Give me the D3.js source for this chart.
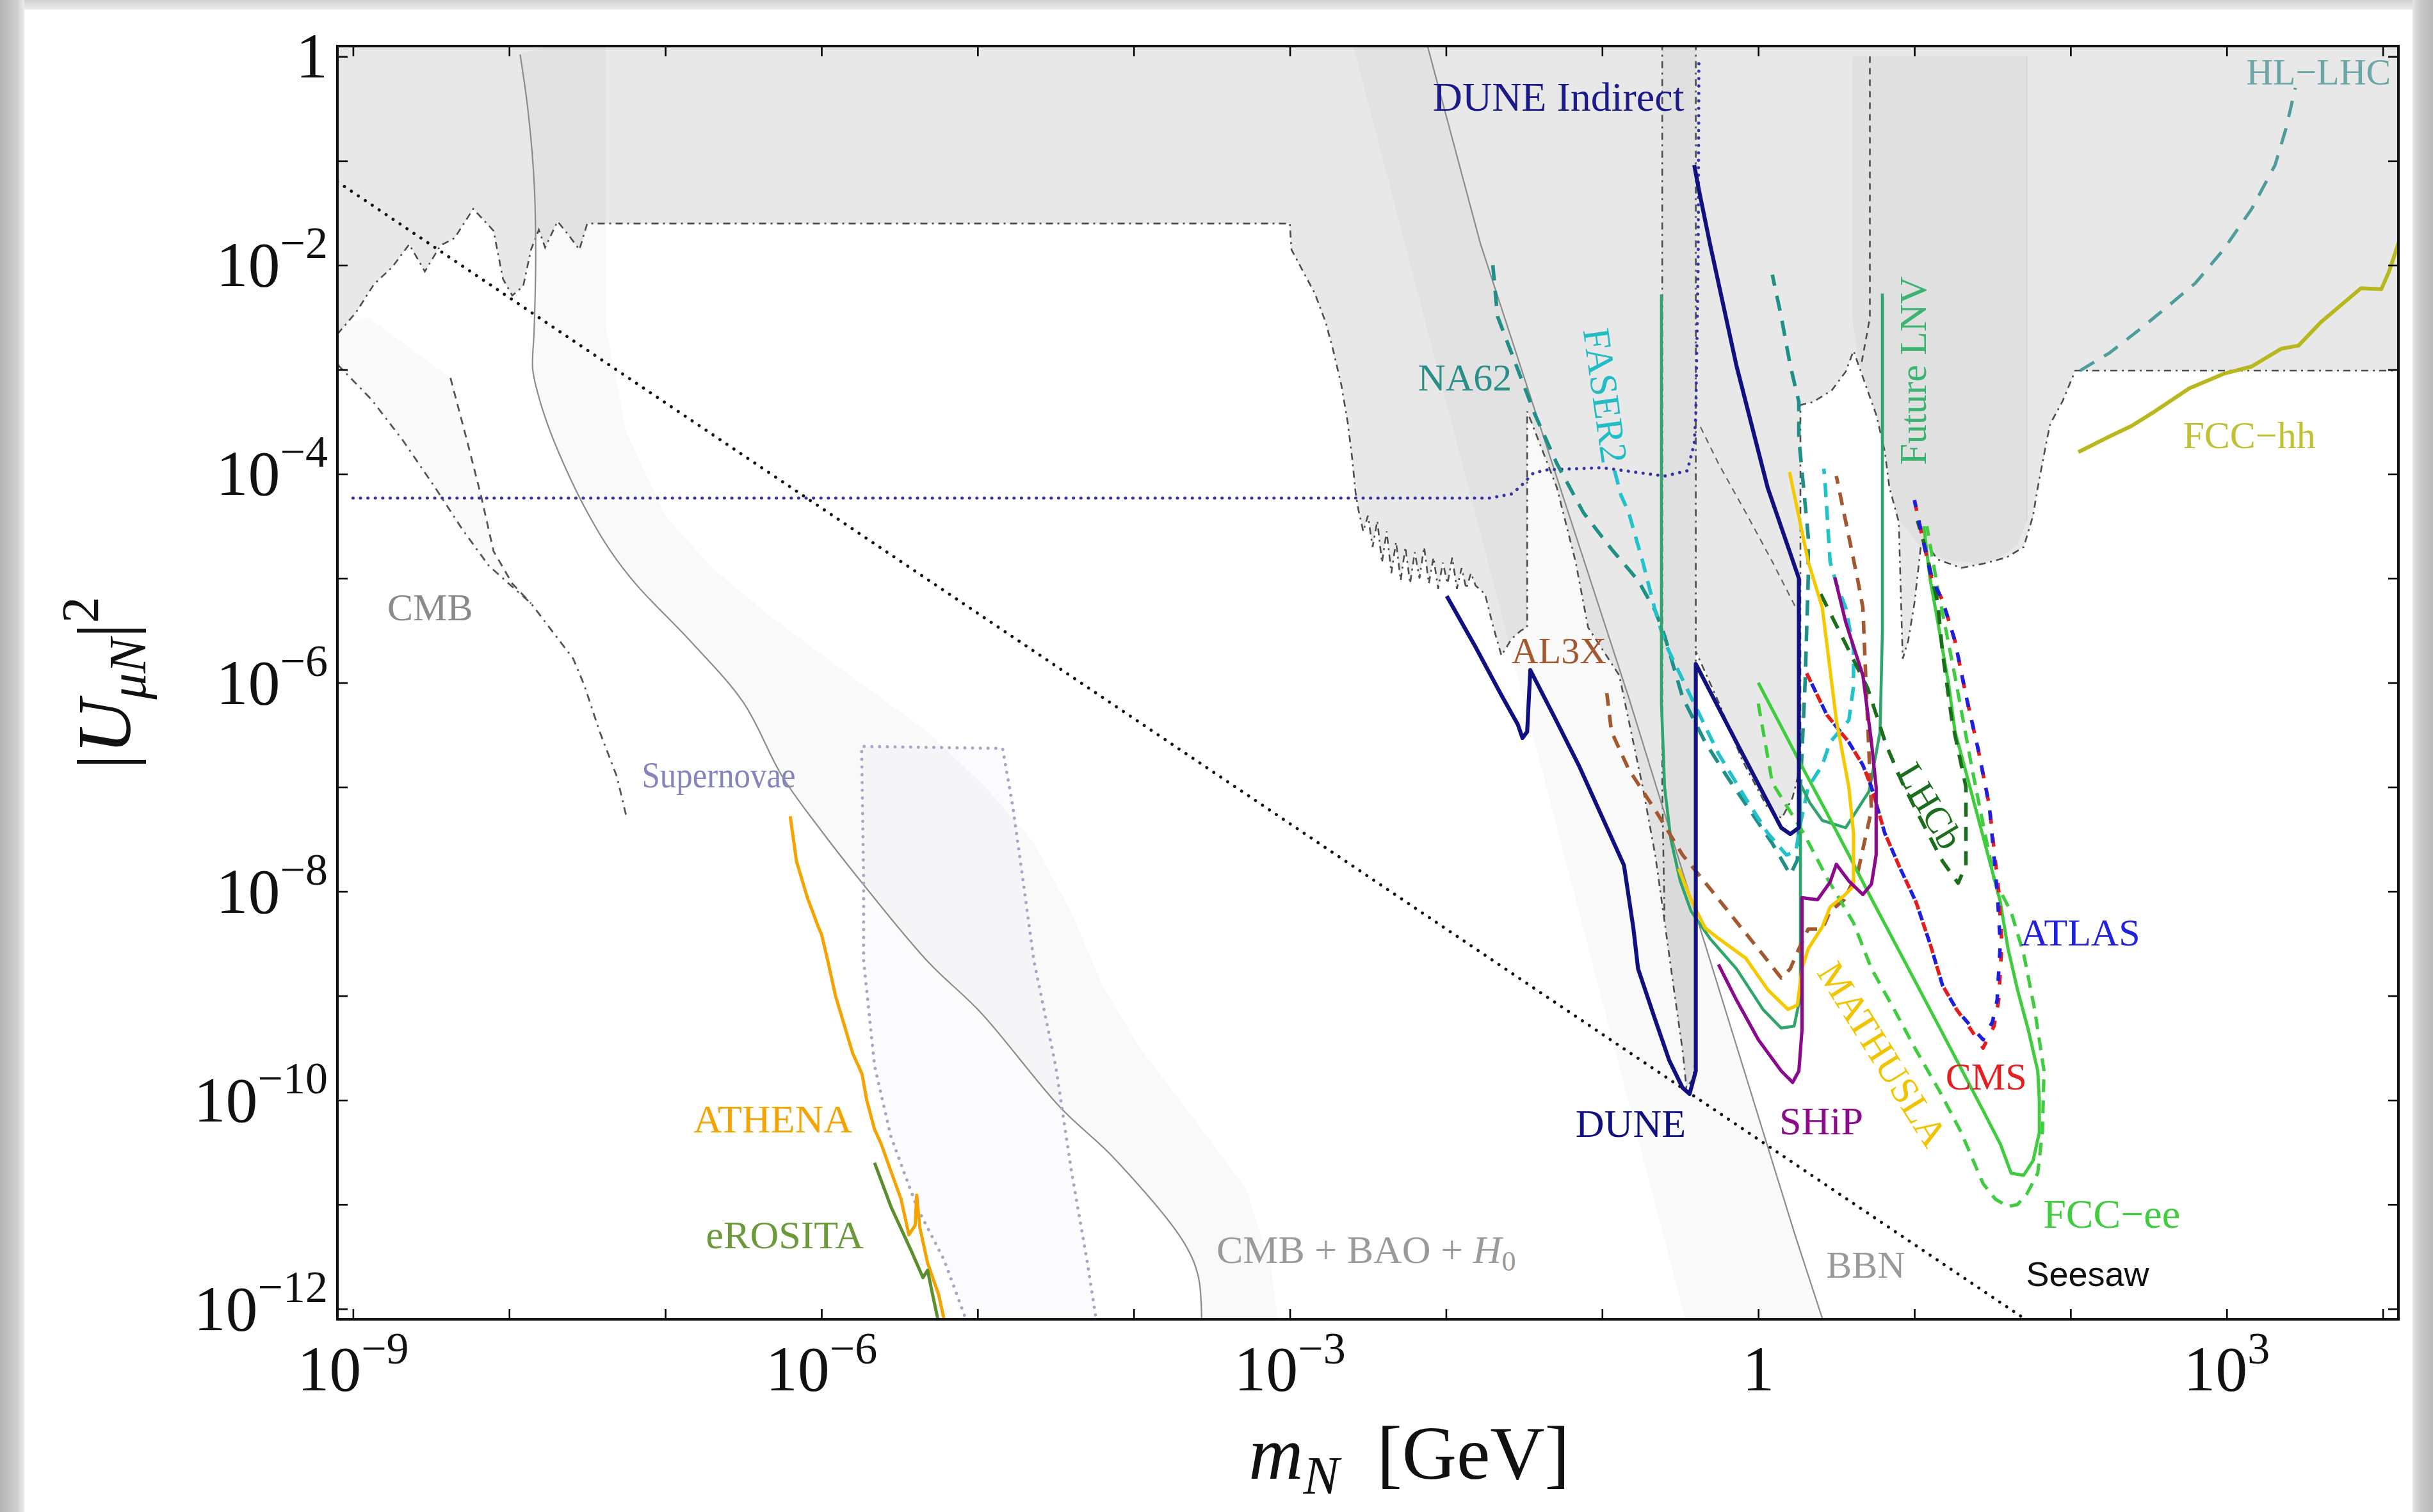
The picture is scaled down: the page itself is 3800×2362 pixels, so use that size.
<!DOCTYPE html>
<html>
<head>
<meta charset="utf-8">
<script src="https://cdn.jsdelivr.net/npm/d3@7"></script>
<style>
html, body { margin: 0; padding: 0; background: #fff; }
svg { display: block; }
</style>
</head>
<body>
<svg id="chart" width="3800" height="2362"></svg>
<script>
// All curves are tabulated as [log10(m_N / GeV), log10 |U_muN|^2].

// Lower edge of the combined excluded region (everything above it is shaded).
const excludedEdge = [
  [-9.10,-2.66],[-8.98,-2.45],[-8.865,-2.18],[-8.75,-2.02],[-8.64,-1.80],[-8.54,-2.06],[-8.44,-1.81],
  [-8.35,-1.74],[-8.23,-1.46],[-8.10,-1.67],[-8.04,-2.13],[-7.98,-2.29],[-7.91,-2.20],[-7.86,-1.85],
  [-7.81,-1.66],[-7.77,-1.83],[-7.69,-1.58],[-7.62,-1.71],[-7.55,-1.85],[-7.50,-1.60],
  [-3.00,-1.60],[-2.99,-1.85],[-2.94,-1.99],[-2.84,-2.27],[-2.77,-2.55],[-2.72,-2.83],[-2.67,-3.15],
  [-2.63,-3.50],[-2.60,-3.86],[-2.58,-4.17],[-2.56,-4.35],
  [-2.53,-4.55],[-2.50,-4.40],[-2.47,-4.70],[-2.44,-4.45],[-2.41,-4.85],[-2.38,-4.55],[-2.35,-4.95],
  [-2.32,-4.65],[-2.29,-5.02],[-2.26,-4.70],[-2.23,-5.05],[-2.20,-4.75],[-2.17,-5.00],[-2.14,-4.70],
  [-2.11,-5.05],[-2.08,-4.80],[-2.05,-5.10],[-2.02,-4.85],[-1.99,-5.05],[-1.96,-4.80],[-1.93,-5.10],
  [-1.90,-4.90],[-1.87,-5.10],[-1.84,-4.95],[-1.81,-5.07],[-1.75,-5.15],[-1.70,-5.45],[-1.645,-5.74],
  [-1.58,-5.58],[-1.52,-5.50],[-1.48,-5.47],[-1.48,-3.40],
  [-1.29,-4.13],[-1.17,-4.84],[-1.09,-5.47],[-0.89,-5.93],[-0.83,-6.36],[-0.74,-7.00],[-0.66,-7.65],
  [-0.60,-8.29],[-0.54,-8.94],[-0.485,-9.52],[-0.46,-9.88],[-0.42,-9.80],[-0.40,-9.60],
  [-0.40,-5.70],[-0.25,-6.20],[-0.10,-6.75],[0.06,-7.20],[0.15,-7.30],[0.22,-7.10],[0.27,-6.80],
  [0.27,-3.34],[0.35,-3.31],[0.47,-3.20],[0.56,-3.02],[0.61,-2.82],[0.70,-3.20],[0.755,-3.43],
  [0.81,-3.78],[0.84,-4.13],[0.90,-4.46],[0.925,-5.77],[0.96,-5.60],[1.00,-5.24],[1.04,-4.71],
  [1.10,-4.72],[1.15,-4.82],[1.30,-4.90],[1.44,-4.86],[1.59,-4.80],[1.70,-4.70],[1.76,-4.40],
  [1.79,-4.13],[1.85,-3.66],[1.87,-3.52],[1.95,-3.30],[2.03,-3.01],[4.10,-3.01]
];

// Narrow beam-dump column and the LNV / collider block (drawn as darker overlays).
const columnRegion = [[-0.615,0.3],[-0.40,0.3],[-0.40,-9.60],[-0.46,-9.88],[-0.54,-8.94],[-0.60,-8.29],[-0.615,-5.5]];
const lnvBlock = [[0.60,0.0],[1.72,0.0],[1.72,-4.45],[1.66,-4.68],[1.55,-4.80],[1.40,-4.86],[1.20,-4.82],
  [1.05,-4.72],[0.88,-4.40],[0.80,-3.70],[0.72,-3.25],[0.64,-2.90],[0.60,-2.50]];

// Extra region edges inside the shaded area.
const columnLeftEdge = [[-0.615,0.3],[-0.615,-7.0],[-0.60,-8.29]];
const columnRightEdge = [[-0.40,0.3],[-0.40,-5.70]];
const lnvLeftEdge = [[0.715,0.0],[0.715,-2.5],[0.66,-2.95]];
const innerEdge = [[-0.37,-3.55],[-0.255,-3.90],[-0.08,-4.37],[0.09,-4.84],[0.25,-5.31]];

// Cosmology / astrophysics
const cmbBaoH0 = [[-7.93,0.02],[-7.88,-0.51],[-7.84,-1.21],[-7.83,-1.92],[-7.84,-2.62],[-7.85,-2.98],
  [-7.83,-3.15],[-7.76,-3.50],[-7.655,-3.89],[-7.52,-4.31],[-7.35,-4.74],[-7.18,-5.07],[-6.84,-5.60],
  [-6.50,-6.19],[-6.25,-6.90],[-6.00,-7.42],[-5.76,-7.88],[-5.32,-8.67],[-4.98,-9.16],[-4.47,-10.07],
  [-4.13,-10.55],[-3.68,-11.36],[-3.585,-11.70],[-3.565,-12.20]];
const cmbBaoH0BandEdge = [[-7.38,0.3],[-7.38,-2.6],[-7.25,-3.6],[-7.0,-4.4],[-6.7,-4.9],[-6.34,-5.35],
  [-5.8,-5.95],[-5.32,-6.47],[-4.95,-7.0],[-4.64,-7.53],[-4.4,-8.2],[-4.2,-8.9],[-3.96,-9.5],
  [-3.62,-10.17],[-3.28,-10.85],[-3.12,-11.6],[-3.07,-12.2]];
const bbnLine = [[-2.154,0.3],[-1.78,-1.79],[-0.83,-6.14],[0.233,-11.28],[0.434,-12.2]];
const bbnBandEdge = [[-2.63,0.3],[-0.45,-12.2]];
const cmbDashDot = [[-9.10,-2.95],[-8.88,-3.29],[-8.68,-3.68],[-8.47,-4.14],[-8.30,-4.53],[-8.13,-4.88],
  [-7.86,-5.24],[-7.59,-5.77],[-7.52,-6.02],[-7.42,-6.47],[-7.31,-6.90],[-7.25,-7.28]];
const cmbDashed = [[-8.376,-3.08],[-8.27,-3.68],[-8.18,-4.21],[-8.10,-4.74],[-7.98,-5.05],[-7.86,-5.24]];
const supernovaBox = [[-5.05,-12.2],[-5.215,-11.53],[-5.39,-11.02],[-5.555,-10.35],[-5.66,-9.67],
  [-5.73,-8.66],[-5.73,-7.88],[-5.743,-6.61],[-4.84,-6.63],[-4.775,-7.18],[-4.71,-7.88],[-4.64,-8.66],
  [-4.50,-9.67],[-4.40,-10.67],[-4.30,-11.53],[-4.23,-12.2]];
const athena = [[-6.20,-7.28],[-6.16,-7.71],[-6.09,-8.06],[-6.02,-8.34],[-6.00,-8.41],[-5.96,-8.66],
  [-5.91,-9.00],[-5.85,-9.30],[-5.80,-9.55],[-5.74,-9.75],[-5.71,-10.00],[-5.66,-10.28],[-5.62,-10.41],
  [-5.555,-10.68],[-5.49,-10.95],[-5.44,-11.29],[-5.40,-11.20],[-5.39,-10.91],[-5.37,-11.22],
  [-5.32,-11.56],[-5.25,-11.86],[-5.20,-12.20]];
const erosita = [[-5.66,-10.60],[-5.555,-11.02],[-5.42,-11.46],[-5.35,-11.70],[-5.32,-11.63],[-5.29,-11.85],[-5.24,-12.20]];
const seesaw = [[-9.10,-1.20],[1.81,-12.20]];

// Projected sensitivities
const duneIndirect = [[-9.0,-4.23],[-1.715,-4.23],[-1.576,-4.19],[-1.51,-4.10],[-1.44,-3.99],[-1.35,-3.96],
  [-1.0,-3.94],[-0.60,-4.02],[-0.455,-3.97],[-0.41,-3.71],[-0.40,-3.43],[-0.385,-2.0],[-0.38,0.0]];
const dune = [[-1.995,-5.17],[-1.81,-5.66],[-1.645,-6.12],[-1.54,-6.40],[-1.51,-6.53],[-1.48,-6.47],
  [-1.46,-5.88],[-1.305,-6.33],[-1.15,-6.79],[-1.005,-7.27],[-0.86,-7.75],[-0.80,-8.35],[-0.77,-8.74],
  [-0.66,-9.23],[-0.57,-9.62],[-0.485,-9.88],[-0.44,-9.94],[-0.40,-9.72],[-0.40,-5.82],[-0.14,-6.57],
  [0.147,-7.39],[0.205,-7.45],[0.26,-7.39],[0.26,-5.0],[0.06,-4.13],[-0.14,-2.96],[-0.31,-1.79],
  [-0.38,-1.28],[-0.41,-1.04]];
const na62 = [[-1.70,-2.00],[-1.67,-2.49],[-1.55,-2.96],[-1.43,-3.43],[-1.29,-3.90],[-1.12,-4.37],
  [-0.94,-4.72],[-0.77,-5.02],[-0.66,-5.31],[-0.60,-5.55],[-0.485,-6.14],[-0.34,-6.57],[-0.20,-6.90],
  [-0.055,-7.22],[0.09,-7.54],[0.205,-7.84],[0.25,-7.70],[0.27,-7.00],[0.30,-6.00],[0.32,-5.00],
  [0.32,-4.60],[0.29,-4.13],[0.26,-3.66],[0.26,-3.31],[0.205,-2.96],[0.147,-2.49],[0.09,-2.09]];
const faser2 = [[-0.92,-3.97],[-0.88,-4.20],[-0.83,-4.37],[-0.74,-4.84],[-0.66,-5.31],[-0.60,-5.61],
  [-0.43,-6.14],[-0.255,-6.68],[-0.08,-7.11],[0.06,-7.44],[0.18,-7.65],[0.24,-7.62],[0.27,-7.35],
  [0.32,-7.00],[0.41,-6.79],[0.46,-6.57],[0.58,-6.36],[0.61,-6.04],[0.61,-5.68],[0.56,-5.28],
  [0.50,-5.05],[0.46,-4.84],[0.43,-4.13],[0.42,-3.95]];
const futureLNV = [[-0.62,-2.28],[-0.62,-6.20],[-0.60,-7.00],[-0.56,-7.50],[-0.50,-7.90],[-0.43,-8.19],
  [-0.31,-8.45],[-0.14,-8.74],[0.03,-9.13],[0.147,-9.31],[0.23,-9.29],[0.27,-9.00],[0.27,-6.97],
  [0.33,-7.15],[0.41,-7.32],[0.56,-7.39],[0.71,-7.04],[0.78,-6.47],[0.795,-5.50],[0.795,-2.27]];
const al3x = [[-0.97,-6.10],[-0.94,-6.47],[-0.83,-6.83],[-0.66,-7.22],[-0.485,-7.65],[-0.31,-7.97],
  [-0.14,-8.29],[0.0,-8.55],[0.147,-8.83],[0.205,-8.74],[0.26,-8.55],[0.32,-8.36],[0.41,-8.36],
  [0.46,-8.19],[0.55,-8.08],[0.64,-7.80],[0.725,-7.22],[0.70,-6.36],[0.67,-5.28],[0.635,-5.00],
  [0.58,-4.60],[0.50,-4.02]];
const mathusla = [[-0.51,-7.78],[-0.43,-8.08],[-0.34,-8.35],[-0.255,-8.45],[-0.08,-8.64],[0.06,-8.94],
  [0.19,-9.13],[0.25,-9.09],[0.28,-8.74],[0.32,-8.55],[0.41,-8.34],[0.46,-8.15],[0.55,-8.04],
  [0.61,-7.95],[0.61,-7.44],[0.58,-7.00],[0.50,-6.36],[0.41,-5.28],[0.32,-4.84],[0.20,-3.98]];
const ship = [[-0.255,-8.70],[-0.14,-9.04],[0.0,-9.42],[0.147,-9.72],[0.22,-9.83],[0.26,-9.72],
  [0.28,-9.33],[0.28,-8.06],[0.38,-8.08],[0.46,-7.91],[0.50,-7.74],[0.58,-7.90],[0.67,-8.03],
  [0.725,-7.93],[0.755,-7.65],[0.755,-7.00],[0.725,-6.57],[0.67,-5.93],[0.56,-5.42],[0.49,-4.99]];
const lhcb = [[0.40,-5.15],[0.55,-5.60],[0.70,-6.05],[0.82,-6.60],[0.92,-6.95],[1.01,-7.22],[1.18,-7.71],
  [1.28,-7.92],[1.33,-7.75],[1.33,-7.00],[1.24,-6.36],[1.18,-5.71],[1.15,-5.24],[1.07,-4.71],[1.02,-4.45]];
const atlas = [[0.31,-5.91],[0.44,-6.31],[0.58,-6.57],[0.67,-6.79],[0.725,-7.00],[0.81,-7.44],[0.90,-7.75],
  [1.01,-8.10],[1.10,-8.50],[1.18,-8.90],[1.27,-9.13],[1.36,-9.29],[1.44,-9.42],[1.50,-9.25],
  [1.53,-9.04],[1.55,-8.50],[1.53,-8.00],[1.48,-7.18],[1.41,-6.65],[1.33,-6.12],[1.26,-5.60],
  [1.18,-5.21],[1.11,-5.00],[1.05,-4.60],[1.00,-4.25]];
const cms = [[0.31,-5.91],[0.44,-6.31],[0.58,-6.57],[0.67,-6.79],[0.725,-7.00],[0.81,-7.44],[0.90,-7.75],
  [1.01,-8.10],[1.10,-8.50],[1.18,-8.90],[1.27,-9.13],[1.36,-9.32],[1.44,-9.50],[1.51,-9.29],
  [1.54,-9.04],[1.56,-8.50],[1.54,-8.00],[1.48,-7.18],[1.41,-6.65],[1.33,-6.12],[1.26,-5.60],
  [1.18,-5.21],[1.11,-5.00],[1.05,-4.60],[1.00,-4.25]];
const fccEeSolid = [[0.0,-6.00],[0.147,-6.42],[0.29,-6.83],[0.44,-7.25],[0.58,-7.65],[0.725,-8.07],
  [0.955,-8.72],[1.156,-9.29],[1.30,-9.70],[1.44,-10.10],[1.55,-10.42],[1.62,-10.70],[1.70,-10.72],
  [1.76,-10.58],[1.80,-10.31],[1.80,-10.00],[1.79,-9.72],[1.73,-9.33],[1.66,-8.94],[1.60,-8.55],
  [1.55,-8.10],[1.48,-7.70],[1.40,-7.25],[1.32,-6.80],[1.26,-6.47],[1.22,-6.02],[1.15,-5.42],
  [1.10,-5.00],[1.06,-4.50]];
const fccEeDashed = [[0.0,-6.20],[0.09,-6.96],[0.29,-7.44],[0.44,-7.87],[0.61,-8.30],[0.725,-8.74],
  [0.87,-9.13],[1.01,-9.52],[1.16,-9.91],[1.30,-10.31],[1.44,-10.80],[1.52,-10.95],[1.60,-11.02],
  [1.66,-11.00],[1.72,-10.90],[1.79,-10.70],[1.82,-10.30],[1.83,-9.72],[1.77,-9.13],[1.70,-8.60],
  [1.62,-8.20],[1.51,-7.88],[1.37,-6.83],[1.26,-5.94],[1.15,-5.10],[1.08,-4.50]];
const hlLhc = [[2.06,-3.01],[2.25,-2.84],[2.43,-2.63],[2.61,-2.41],[2.80,-2.17],[2.98,-1.85],[3.16,-1.46],
  [3.31,-1.04],[3.38,-0.69],[3.44,-0.30]];
const fccHh = [[2.05,-3.79],[2.25,-3.64],[2.39,-3.54],[2.54,-3.40],[2.76,-3.18],[2.98,-3.04],[3.16,-2.97],
  [3.35,-2.80],[3.46,-2.77],[3.60,-2.55],[3.71,-2.41],[3.86,-2.22],[3.99,-2.23],[4.04,-2.06],[4.12,-1.70]];

// Axis decades and labelled decades
const massDecades = d3.range(-9, 5);
const couplingDecades = d3.range(-12, 1);
const massLabelled = [-9, -6, -3, 0, 3];
const couplingLabelled = [0, -2, -4, -6, -8, -10, -12];

// ---------------------------------------------------------------------------
const W = 3800, H = 2362;
const plot = { left: 527, right: 3746, top: 72, bottom: 2061 };
const x = d3.scaleLog().domain([10 ** -9.1, 10 ** 4.1]).range([plot.left, plot.right]);
const y = d3.scaleLog().domain([10 ** -12.1, 10 ** 0.1]).range([plot.bottom, plot.top]);
const line = d3.line().x(d => x(10 ** d[0])).y(d => y(10 ** d[1]));
const smooth = d3.line().x(d => x(10 ** d[0])).y(d => y(10 ** d[1])).curve(d3.curveCatmullRom.alpha(0.5));

const serif = "'Liberation Serif', 'DejaVu Serif', serif";
const svg = d3.select("#chart");
const defs = svg.append("defs");

// Soft grey border around the page
function grad(id, x1, y1, x2, y2, stops) {
  const lg = defs.append("linearGradient").attr("id", id)
    .attr("x1", x1).attr("y1", y1).attr("x2", x2).attr("y2", y2);
  stops.forEach(s => lg.append("stop").attr("offset", s[0]).attr("stop-color", s[1]));
}
grad("gLeft", 0, 0, 1, 0, [[0, "#b4b4b4"], [0.7, "#cfcfcf"], [1, "#ececec"]]);
grad("gTop", 0, 0, 0, 1, [[0, "#cfcfcf"], [1, "#eeeeee"]]);
grad("gRight", 0, 0, 1, 0, [[0, "#e6e6e6"], [0.4, "#c8c8c8"], [1, "#b8b8b8"]]);
svg.append("rect").attr("width", W).attr("height", H).attr("fill", "#fff");
svg.append("rect").attr("x", 0).attr("y", 0).attr("width", W).attr("height", 15).attr("fill", "url(#gTop)");
svg.append("rect").attr("x", 0).attr("y", 0).attr("width", 38).attr("height", H).attr("fill", "url(#gLeft)");
svg.append("rect").attr("x", 3768).attr("y", 0).attr("width", 32).attr("height", H).attr("fill", "url(#gRight)");

defs.append("clipPath").attr("id", "plotClip").append("rect")
  .attr("x", plot.left).attr("y", plot.top)
  .attr("width", plot.right - plot.left).attr("height", plot.bottom - plot.top);

const g = svg.append("g").attr("clip-path", "url(#plotClip)");

// Shaded regions
g.append("path").attr("d", line([...excludedEdge, [4.3, 0.3], [-9.3, 0.3], [-9.3, -2.66]]) + "Z")
  .attr("fill", "#e8e8e8");

const overlay = (pts, op) => g.append("path").attr("d", line(pts) + "Z").attr("fill", "#000").attr("fill-opacity", op);
overlay([...cmbBaoH0, ...cmbBaoH0BandEdge.slice().reverse()], 0.024);
overlay([...bbnLine, ...bbnBandEdge.slice().reverse()], 0.024);
overlay([...cmbDashed, ...cmbDashDot.slice(0, 7).reverse(), [-9.3, -2.9], [-9.3, -2.66], [-8.9, -2.5]], 0.02);
overlay(columnRegion, 0.03);
overlay(lnvBlock, 0.03);
g.append("path").attr("d", line(supernovaBox) + "Z").attr("fill", "#7070c0").attr("fill-opacity", 0.03);

// Region edges
const edge = (pts, dash, w = 2.6, col = "#4d4d4d") => g.append("path").attr("d", line(pts))
  .attr("fill", "none").attr("stroke", col).attr("stroke-width", w).attr("stroke-dasharray", dash);
edge(excludedEdge, "11,7,3,7");
edge(columnLeftEdge, "11,7,3,7");
edge(columnRightEdge, "11,7,3,7");
edge(lnvLeftEdge, "10,8");
edge(innerEdge, "10,8", 2.2, "#666");
edge([[1.72, 0.0], [1.72, -4.45]], null, 1.5, "#d2d2d2");

// Thin cosmology boundaries
g.append("path").attr("d", smooth(cmbBaoH0)).attr("fill", "none").attr("stroke", "#8c8c8c").attr("stroke-width", 2.2);
g.append("path").attr("d", line(bbnLine)).attr("fill", "none").attr("stroke", "#8c8c8c").attr("stroke-width", 2.2);
edge(cmbDashDot, "12,8,3,8", 2.8, "#555");
edge(cmbDashed, "12,9", 2.8, "#555");

// Supernova bound (dotted, open at the bottom)
g.append("path").attr("d", line(supernovaBox)).attr("fill", "none").attr("stroke", "#a6a6c6")
  .attr("stroke-width", 5).attr("stroke-linecap", "round").attr("stroke-dasharray", "0.1,12");

// Seesaw line
g.append("path").attr("d", line(seesaw)).attr("fill", "none").attr("stroke", "#111")
  .attr("stroke-width", 4.8).attr("stroke-linecap", "round").attr("stroke-dasharray", "0.1,13");

// DUNE indirect
g.append("path").attr("d", line(duneIndirect)).attr("fill", "none").attr("stroke", "#3434a6")
  .attr("stroke-width", 5).attr("stroke-linecap", "round").attr("stroke-dasharray", "0.1,11.5");

const curve = (pts, col, w, dash, offset) => {
  const p = g.append("path").attr("d", line(pts)).attr("fill", "none").attr("stroke", col)
    .attr("stroke-width", w).attr("stroke-linejoin", "round");
  if (dash) p.attr("stroke-dasharray", dash);
  if (offset) p.attr("stroke-dashoffset", offset);
  return p;
};

curve(athena, "#f5a300", 5);
curve(erosita, "#5b8e2c", 5);
curve(hlLhc, "#4f9c9c", 5, "26,18");
curve(fccHh, "#b8b81e", 6);
curve(na62, "#1f8f88", 5.6, "24,16");
curve(faser2, "#21c2ca", 5.6, "22,14");
curve(futureLNV, "#2fa56c", 4.6);
curve(al3x, "#a4582f", 5.6, "20,14");
curve(fccEeDashed, "#3fcc3f", 5.2, "20,13");
curve(fccEeSolid, "#3fcc3f", 5);
curve(lhcb, "#1b6e1b", 5.6, "22,16");
// ATLAS and CMS share a contour: interleaved red and blue dashes with small gaps
curve(cms, "#e51c1c", 5.6, "15,21");
curve(atlas, "#1e1ee0", 5.6, "15,21", 18);
curve(mathusla, "#f5c800", 5.2);
curve(ship, "#8b0a8b", 5.2);
curve(dune, "#101080", 6.2);

// Frame and ticks
const axes = svg.append("g");
const tickStyle = sel => {
  sel.select(".domain").remove();
  sel.selectAll(".tick line").attr("stroke", "#000").attr("stroke-width", 2.6);
  sel.selectAll(".tick text").remove();
};
axes.append("g").attr("transform", `translate(0,${plot.bottom})`)
  .call(d3.axisBottom(x).tickValues(massDecades.map(e => 10 ** e)).tickSize(-16)).call(tickStyle);
axes.append("g").attr("transform", `translate(0,${plot.top})`)
  .call(d3.axisTop(x).tickValues(massDecades.map(e => 10 ** e)).tickSize(-16)).call(tickStyle);
axes.append("g").attr("transform", `translate(${plot.left},0)`)
  .call(d3.axisLeft(y).tickValues(couplingDecades.map(e => 10 ** e)).tickSize(-16)).call(tickStyle);
axes.append("g").attr("transform", `translate(${plot.right},0)`)
  .call(d3.axisRight(y).tickValues(couplingDecades.map(e => 10 ** e)).tickSize(-16)).call(tickStyle);
svg.append("rect").attr("x", plot.left).attr("y", plot.top)
  .attr("width", plot.right - plot.left).attr("height", plot.bottom - plot.top)
  .attr("fill", "none").attr("stroke", "#111").attr("stroke-width", 4);

// Tick labels: 1, 10^e
function power(sel, e, supSize, dy) {
  if (e === 0) { sel.text("1"); return; }
  sel.append("tspan").text("10");
  sel.append("tspan").attr("font-size", supSize).attr("dy", dy).text((e < 0 ? "\u2212" : "") + Math.abs(e));
}
massLabelled.forEach(e => {
  const t = svg.append("text").attr("x", x(10 ** e)).attr("y", plot.bottom + 111)
    .attr("text-anchor", "middle").attr("font-family", serif).attr("font-size", 100).attr("fill", "#111");
  power(t, e, 70, -42);
});
couplingLabelled.forEach(e => {
  const t = svg.append("text").attr("x", 512).attr("y", y(10 ** e) + 33)
    .attr("text-anchor", "end").attr("font-family", serif).attr("font-size", 100).attr("fill", "#111");
  power(t, e, 70, -44);
});

// Axis titles
const xt = svg.append("text").attr("x", 2201).attr("y", 2310).attr("text-anchor", "middle")
  .attr("font-family", serif).attr("font-size", 118).attr("fill", "#111");
xt.append("tspan").attr("font-style", "italic").text("m");
xt.append("tspan").attr("font-style", "italic").attr("font-size", 84).attr("dy", 24).text("N");
xt.append("tspan").attr("dy", -24).text("\u2002[GeV]");

const yt = svg.append("text").attr("transform", "translate(203,1067) rotate(-90)").attr("text-anchor", "middle")
  .attr("font-family", serif).attr("font-size", 118).attr("fill", "#111");
yt.append("tspan").text("|");
yt.append("tspan").attr("font-style", "italic").text("U");
yt.append("tspan").attr("font-style", "italic").attr("font-size", 82).attr("dy", 24).text("\u03BCN");
yt.append("tspan").attr("dy", -24).text("|");
yt.append("tspan").attr("font-size", 82).attr("dy", -50).text("2");

// Curve labels, anchored in data coordinates
const labels = [
  { t: "DUNE Indirect", at: [-2.085, -0.52], c: "#1a1a8a", s: 64 },
  { t: "HL\u2212LHC", at: [3.125, -0.27], c: "#6aa6a6", s: 58 },
  { t: "NA62", at: [-2.18, -3.20], c: "#2a8f88", s: 60 },
  { t: "AL3X", at: [-1.58, -5.81], c: "#a4582f", s: 58 },
  { t: "ATLAS", at: [1.68, -8.52], c: "#2222dd", s: 60 },
  { t: "CMS", at: [1.20, -9.90], c: "#e22020", s: 60 },
  { t: "FCC\u2212ee", at: [1.825, -11.22], c: "#3fcc3f", s: 64 },
  { t: "SHiP", at: [0.135, -10.33], c: "#8b0a8b", s: 62 },
  { t: "DUNE", at: [-1.17, -10.35], c: "#101080", s: 62 },
  { t: "BBN", at: [0.435, -11.70], c: "#9a9a9a", s: 60 },
  { t: "Supernovae", at: [-7.15, -7.00], c: "#8585bb", s: 58, len: 240 },
  { t: "CMB", at: [-8.78, -5.40], c: "#8a8a8a", s: 60 },
  { t: "ATHENA", at: [-6.82, -10.31], c: "#f5a300", s: 62 },
  { t: "eROSITA", at: [-6.74, -11.42], c: "#6a9a3a", s: 62 },
  { t: "FCC\u2212hh", at: [2.72, -3.75], c: "#c0c034", s: 60 }
];
labels.forEach(l => {
  const t = svg.append("text").attr("x", x(10 ** l.at[0])).attr("y", y(10 ** l.at[1]))
    .attr("font-family", serif).attr("font-size", l.s).attr("fill", l.c).text(l.t);
  if (l.len) t.attr("textLength", l.len).attr("lengthAdjust", "spacingAndGlyphs");
});

const rotated = [
  { t: "FASER2", at: [-0.98, -3.25], r: 82, c: "#22bcc4", s: 60 },
  { t: "Future LNV", at: [0.99, -3.01], r: -90, c: "#3cb371", s: 60 },
  { t: "LHCb", at: [1.10, -7.18], r: 59, c: "#1b6e1b", s: 58 },
  { t: "MATHUSLA", at: [0.795, -9.56], r: 58, c: "#f0c400", s: 60 }
];
rotated.forEach(l => {
  svg.append("text")
    .attr("transform", `translate(${x(10 ** l.at[0])},${y(10 ** l.at[1])}) rotate(${l.r})`)
    .attr("text-anchor", "middle").attr("dominant-baseline", "central")
    .attr("font-family", serif).attr("font-size", l.s).attr("fill", l.c).text(l.t);
});

// Cosmology label with subscript
const cb = svg.append("text").attr("x", x(10 ** -3.47)).attr("y", y(10 ** -11.56))
  .attr("font-family", serif).attr("font-size", 62).attr("fill", "#9a9a9a");
cb.append("tspan").text("CMB + BAO + ");
cb.append("tspan").attr("font-style", "italic").text("H");
cb.append("tspan").attr("font-size", 44).attr("dy", 12).text("0");

svg.append("text").attr("x", x(10 ** 1.715)).attr("y", y(10 ** -11.78))
  .attr("font-family", "'Liberation Sans', 'DejaVu Sans', sans-serif").attr("font-size", 54)
  .attr("fill", "#111").text("Seesaw");
</script>
</body>
</html>
